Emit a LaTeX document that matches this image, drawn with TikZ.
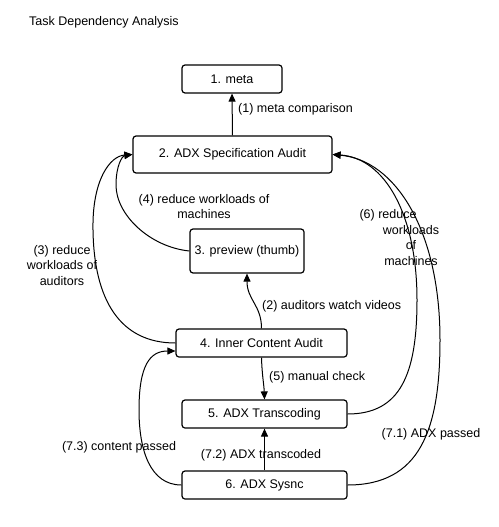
\documentclass[tikz,border=0pt]{standalone}
\usepackage{fontspec}
\setmainfont{Liberation Sans}
\usetikzlibrary{arrows.meta}
\tikzset{
  box/.style={draw, line width=1.2pt, rounded corners=3pt, inner sep=0pt, font=\fontsize{12.5}{15.5}\selectfont},
  conn/.style={line width=1pt, -{Triangle[length=8pt,width=7pt]}},
  lbl/.style={inner sep=0pt, font=\fontsize{12.5}{15.5}\selectfont, align=center},
}
\begin{document}
\begin{tikzpicture}[x=1pt,y=-1pt]
\useasboundingbox (0,0) rectangle (498,527);
\node[lbl, anchor=west] (title) at (29,22) {Task Dependency Analysis};
\node[box, minimum width=100pt, minimum height=28pt] (n1) at (232,79) {1. meta};
\node[box, minimum width=199pt, minimum height=37pt] (n2) at (232.5,154.5) {2. ADX Specification Audit};
\node[box, minimum width=114pt, minimum height=44pt] (n3) at (247,251) {3. preview (thumb)};
\node[box, minimum width=171pt, minimum height=28pt] (n4) at (261.5,343) {4. Inner Content Audit};
\node[box, minimum width=165pt, minimum height=28pt] (n5) at (264.5,414) {5. ADX Transcoding};
\node[box, minimum width=165pt, minimum height=28pt] (n6) at (264.5,485) {6. ADX Sysnc};

% (1)
\draw[conn] (n2.north) -- (n1.south);
\node[lbl, anchor=west] (l1) at (238,109) {(1) meta comparison};
% (2)
\draw[conn] (n4.north) .. controls (261.5,305) and (247,300) .. (n3.south);
\node[lbl, anchor=west] (l2) at (262,306) {(2) auditors watch videos};
% (3)
\draw[conn] (n4.west) .. controls (120,343) and (94,300) .. (93,230) .. controls (92,180) and (110,156) .. (n2.west);
\node[lbl] (l3) at (62,265.5) {(3) reduce\\workloads of\\auditors};
% (4)
\draw[conn] (n3.west) .. controls (150,247) and (116,215) .. (116,185) .. controls (116,166) and (122,156) .. (n2.west);
\node[lbl] (l4) at (204,206.5) {(4) reduce workloads of\\machines};
% (5)
\draw[conn] (n4.south) .. controls (262,375) and (264,385) .. (n5.north);
\node[lbl, anchor=west] (l5) at (269,377) {(5) manual check};
% (6)
\draw[conn] (n5.east) .. controls (400,414) and (417,375) .. (417,300) .. controls (417,215) and (385,158) .. (n2.east);
\node[lbl] (l6a) at (388,215) {(6) reduce};
\node[lbl] (l6b) at (411,245.5) {workloads\\of\\machines};
% (7.1)
\draw[conn] (n6.east) .. controls (420,485) and (440,430) .. (440,340) .. controls (440,230) and (395,160) .. (n2.east);
\node[lbl] (l71) at (431,434) {(7.1) ADX passed};
% (7.2)
\draw[conn] (n6.north) -- (n5.south);
\node[lbl] (l72) at (261,455) {(7.2) ADX transcoded};
% (7.3)
\draw[conn] (n6.west) .. controls (150,485) and (139,450) .. (139,410) .. controls (139,365) and (150,351) .. ([yshift=-8pt]n4.west);
\node[lbl] (l73) at (119,447) {(7.3) content passed};
\end{tikzpicture}
\end{document}
